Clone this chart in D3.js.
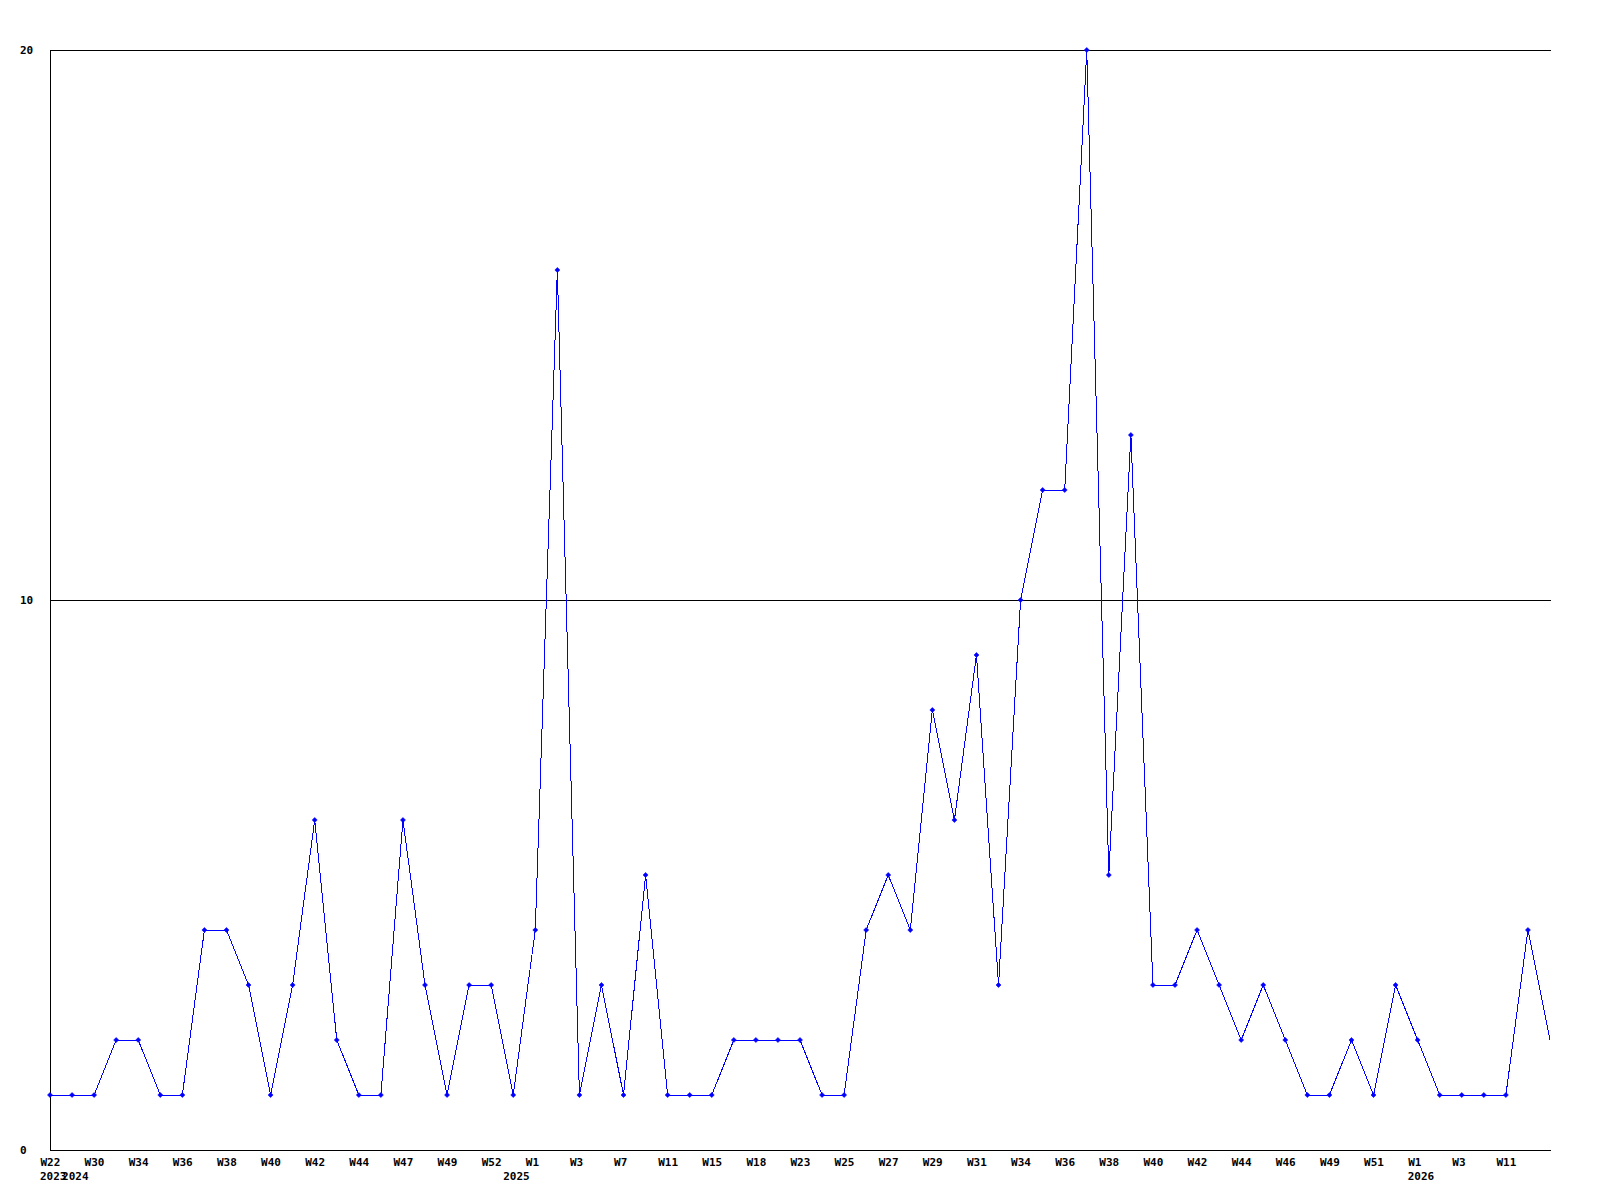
<!DOCTYPE html>
<html>
<head>
<meta charset="utf-8">
<script src="https://cdn.jsdelivr.net/npm/d3@7"></script>
<style>
  html, body { margin: 0; padding: 0; background: #fff; }
  svg { display: block; }
  text { font-family: "DejaVu Sans Mono", "Liberation Mono", monospace; font-weight: bold; font-size: 11px; fill: #000; }
</style>
</head>
<body>
<svg id="chart" width="1600" height="1200"></svg>
<script>
// ---- data ----
const weeks = ["W22","W28","W30","W32","W34","W35","W36","W37","W38","W39",
               "W40","W41","W42","W43","W44","W46","W47","W48","W49","W50",
               "W52","W0","W1","W2","W3","W5","W7","W9","W11","W13",
               "W15","W17","W18","W20","W23","W24","W25","W26","W27","W28",
               "W29","W30","W31","W33","W34","W35","W36","W37","W38","W39",
               "W40","W41","W42","W43","W44","W45","W46","W48","W49","W50",
               "W51","W52","W1","W2","W3","W7","W11","W12","W13"];
const years = ["2023","2024","2024","2024","2024","2024","2024","2024","2024","2024",
               "2024","2024","2024","2024","2024","2024","2024","2024","2024","2024",
               "2024","2025","2025","2025","2025","2025","2025","2025","2025","2025",
               "2025","2025","2025","2025","2025","2025","2025","2025","2025","2025",
               "2025","2025","2025","2025","2025","2025","2025","2025","2025","2025",
               "2025","2025","2025","2025","2025","2025","2025","2025","2025","2025",
               "2025","2025","2026","2026","2026","2026","2026","2026","2026"];
const values = [1,1,1,2,2,1,1,4,4,3,
                1,3,6,2,1,1,6,3,1,3,
                3,1,4,16,1,3,1,5,1,1,
                1,2,2,2,2,1,1,4,5,4,
                8,6,9,3,10,12,12,20,5,13,
                3,3,4,3,2,3,2,1,1,2,
                1,3,2,1,1,1,1,4,2];
const yTicks = [0, 10, 20];

// ---- layout ----
const plotLeft = 50, plotRight = 1550, axisRight = 1551, plotTop = 50, plotBottom = 1150;
const svg = d3.select("#chart");
const keys = d3.range(values.length);

const x = d3.scalePoint().domain(keys).range([plotLeft, plotRight]);
const y = d3.scaleLinear().domain([0, 20]).range([plotBottom, plotTop]);

// y axis with gridlines
const yAxis = svg.append("g")
  .attr("transform", `translate(${plotLeft},0)`)
  .call(d3.axisLeft(y).tickValues(yTicks).tickFormat(d3.format("d"))
        .tickSize(-(axisRight - plotLeft)).tickSizeOuter(0));
yAxis.selectAll("line").attr("stroke", "#000").attr("shape-rendering", "crispEdges");
yAxis.select(".domain").attr("stroke", "#000").attr("shape-rendering", "crispEdges");
yAxis.selectAll("text")
  .attr("x", 20 - plotLeft).attr("dy", "0.35em")
  .attr("text-anchor", "start")
  .style("font-family", "'DejaVu Sans Mono', monospace")
  .style("font-size", "11px").style("font-weight", "bold");

// x axis (labels only)
const labelIdx = keys.filter(i => i % 2 === 0 && x(i) - 10 + 21 <= axisRight);
const xAxis = svg.append("g")
  .attr("transform", `translate(0,${plotBottom})`)
  .call(d3.axisBottom(x).tickValues(labelIdx).tickFormat(i => weeks[i]).tickSize(0));
xAxis.select(".domain").remove();
xAxis.selectAll("text")
  .attr("x", -10).attr("y", 16).attr("dy", 0)
  .attr("text-anchor", "start")
  .style("font-family", "'DejaVu Sans Mono', monospace")
  .style("font-size", "11px").style("font-weight", "bold");

// year labels where the year changes
const yearIdx = keys.filter(i => i === 0 || years[i] !== years[i - 1]);
svg.append("g").selectAll("text").data(yearIdx).join("text")
  .attr("x", i => x(i) - 10).attr("y", plotBottom + 30)
  .text(i => years[i]);

// line
const line = d3.line().x(i => x(i)).y(i => y(values[i]));
svg.append("path")
  .datum(keys)
  .attr("d", line)
  .attr("fill", "none")
  .attr("stroke", "#0000ff")
  .attr("stroke-width", 1)
  .attr("shape-rendering", "crispEdges");

// markers
svg.append("g").selectAll("path").data(keys.filter(i => x(i) < plotRight)).join("path")
  .attr("d", i => {
    const cx = x(i), cy = y(values[i]), r = 2.5;
    return `M${cx},${cy - r}L${cx + r},${cy}L${cx},${cy + r}L${cx - r},${cy}Z`;
  })
  .attr("fill", "#0000ff")
  .attr("stroke", "#0000ff")
  .attr("stroke-width", 0.6);
</script>
</body>
</html>
